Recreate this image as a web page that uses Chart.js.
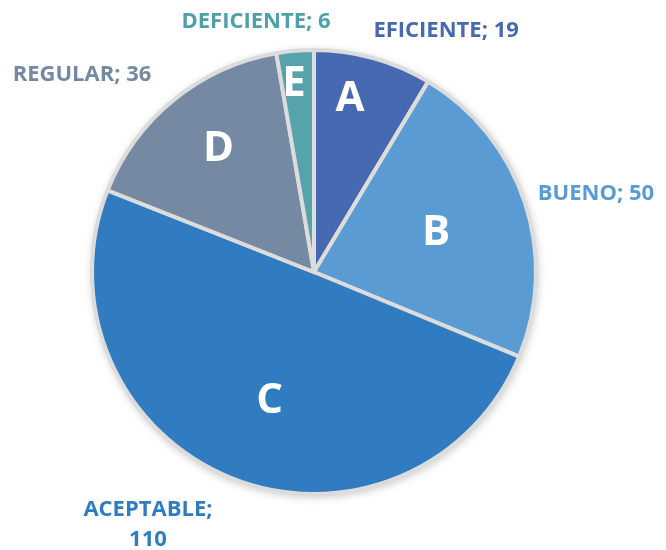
<!DOCTYPE html>
<html>
<head>
<meta charset="utf-8">
<script src="https://cdn.jsdelivr.net/npm/chart.js@4"></script>
<style>
  html, body { margin: 0; padding: 0; background: #ffffff; }
  #wrap { width: 666px; height: 550px; position: relative; }
</style>
</head>
<body>
<div id="wrap"><canvas id="c" width="666" height="550"></canvas></div>
<script>
const categories = ['EFICIENTE', 'BUENO', 'ACEPTABLE', 'REGULAR', 'DEFICIENTE'];
const letters = ['A', 'B', 'C', 'D', 'E'];
const values = [19, 50, 110, 36, 6];

const sliceColors = ['#4669B1', '#5A9BD3', '#317CC1', '#7589A3', '#56A3AC'];
const labelColors = ['#4669B1', '#5A9BD3', '#317CC1', '#7589A3', '#4FA0A8'];
// label placement, as fractions of the pie radius from the pie centre
const letterPos = [[0.162, -0.784], [0.550, -0.178], [-0.200, 0.577], [-0.430, -0.557], [-0.090, -0.851]];
const outerPos = [[0.595, -1.085], [1.270, -0.351], [-0.748, 1.140], [-1.045, -0.887], [-0.261, -1.126]];

const labelPlugin = {
  id: 'pieLabels',
  beforeDatasetsDraw(chart) {
    const meta = chart.getDatasetMeta(0);
    const a = meta.data[0];
    const ctx = chart.ctx;
    ctx.save();
    ctx.shadowColor = 'rgba(0,0,0,0.22)';
    ctx.shadowBlur = 8;
    ctx.shadowOffsetX = 1;
    ctx.shadowOffsetY = 2;
    ctx.beginPath();
    ctx.arc(a.x, a.y, a.outerRadius + 1, 0, Math.PI * 2);
    ctx.fillStyle = '#dcdcdc';
    ctx.fill();
    ctx.restore();
  },
  afterDatasetsDraw(chart) {
    const meta = chart.getDatasetMeta(0);
    const ctx = chart.ctx;
    const a0 = meta.data[0];
    const cx = a0.x, cy = a0.y, r = a0.outerRadius;
    ctx.save();
    ctx.textAlign = 'center';
    ctx.textBaseline = 'middle';
    meta.data.forEach((arc, i) => {
      ctx.fillStyle = '#ffffff';
      ctx.font = 'bold 42px "Open Sans", "DejaVu Sans", sans-serif';
      ctx.fillText(letters[i], cx + letterPos[i][0] * r, cy + letterPos[i][1] * r + 1);
      ctx.fillStyle = labelColors[i];
      ctx.font = 'bold 22px "Open Sans", "DejaVu Sans", sans-serif';
      const x = cx + outerPos[i][0] * r, y = cy + outerPos[i][1] * r;
      if (categories[i] === 'ACEPTABLE') {
        ctx.fillText(categories[i] + ';', x, y - 15);
        ctx.fillText(String(values[i]), x, y + 15);
      } else {
        ctx.fillText(categories[i] + '; ' + values[i], x, y);
      }
    });
    ctx.restore();
  }
};

new Chart(document.getElementById('c'), {
  type: 'pie',
  data: {
    labels: categories,
    datasets: [{
      data: values,
      backgroundColor: sliceColors,
      borderColor: '#dcdcdc',
      borderWidth: 4,
      borderJoinStyle: 'miter'
    }]
  },
  options: {
    responsive: false,
    animation: false,
    events: [],
    layout: { padding: { left: 90, right: 128, top: 48, bottom: 54 } },
    plugins: { legend: { display: false }, tooltip: { enabled: false } }
  },
  plugins: [labelPlugin]
});
</script>
</body>
</html>
